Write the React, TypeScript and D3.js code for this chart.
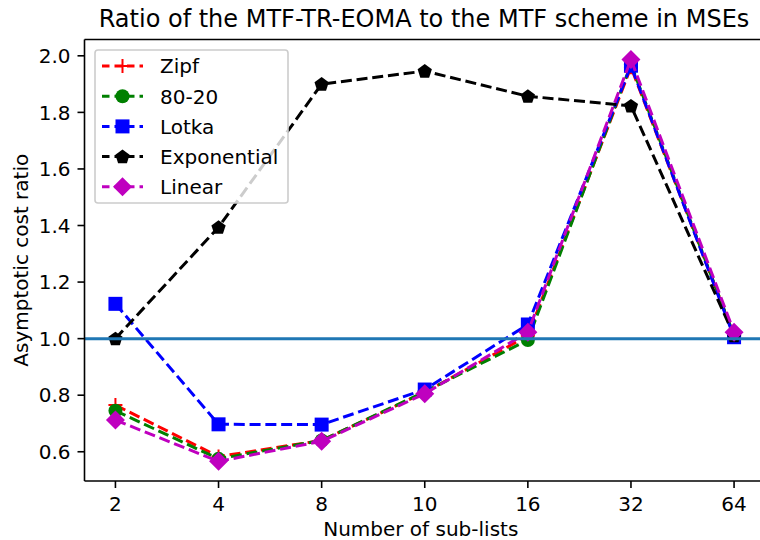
import React from "react";
import * as d3 from "d3";

const categories = ["2", "4", "8", "10", "16", "32", "64"];
const zipf = [0.765, 0.583, 0.64, 0.81, 1.01, 1.96, 1.01];
const eighty20 = [0.745, 0.575, 0.64, 0.812, 0.995, 1.97, 1.01];
const lotka = [1.123, 0.697, 0.696, 0.82, 1.05, 1.965, 1.005];
const exponential = [1.0, 1.394, 1.9, 1.946, 1.857, 1.823, 1.01];
const linear = [0.712, 0.566, 0.637, 0.805, 1.023, 1.987, 1.023];
const yTicks = [0.6, 0.8, 1.0, 1.2, 1.4, 1.6, 1.8, 2.0];

const W = 760, H = 540;
const left = 84.5, right = 765, top = 39.5, bottom = 481;
const FONT = "DejaVu Sans, sans-serif";

type Series = { name: string; values: number[]; color: string; marker: string };
const series: Series[] = [
  { name: "Zipf", values: zipf, color: "#ff0000", marker: "plus" },
  { name: "80-20", values: eighty20, color: "#008000", marker: "circle" },
  { name: "Lotka", values: lotka, color: "#0000ff", marker: "square" },
  { name: "Exponential", values: exponential, color: "#000000", marker: "pentagon" },
  { name: "Linear", values: linear, color: "#bf00bf", marker: "diamond" },
];

function Marker({ type, x, y, color }: { type: string; x: number; y: number; color: string }) {
  if (type === "plus") {
    const s = 7;
    return (
      <g stroke={color} strokeWidth={2}>
        <line x1={x - s} x2={x + s} y1={y} y2={y} />
        <line x1={x} x2={x} y1={y - s} y2={y + s} />
      </g>
    );
  }
  if (type === "circle") return <circle cx={x} cy={y} r={7} fill={color} />;
  if (type === "square") return <rect x={x - 7} y={y - 7} width={14} height={14} fill={color} />;
  if (type === "diamond") {
    const s = 9.5;
    return <path d={`M${x},${y - s}L${x + s},${y}L${x},${y + s}L${x - s},${y}Z`} fill={color} />;
  }
  if (type === "pentagon") {
    const r = 7.5;
    const pts = d3.range(5).map((i) => {
      const a = -Math.PI / 2 + (i * 2 * Math.PI) / 5;
      return `${x + r * Math.cos(a)},${y + 0.5 + r * Math.sin(a)}`;
    });
    return <polygon points={pts.join(" ")} fill={color} />;
  }
  return null;
}

export default function App() {
  const x = d3.scaleLinear().domain([-0.3, 6.3]).range([left, right]);
  const y = d3.scaleLinear().domain([0.4966, 2.0577]).range([bottom, top]);
  const line = d3
    .line<number>()
    .x((_, i) => x(i))
    .y((d) => y(d));

  const legendX = 95, legendY = 50, legendW = 193, legendH = 153;
  const rowH = 30.2;

  return (
    <svg width={W} height={H} style={{ position: "absolute", left: 0, top: 0 }} fontFamily={FONT}>
      <rect width={W} height={H} fill="white" />
      <defs>
        <clipPath id="plot">
          <rect x={left} y={top} width={right - left} height={bottom - top} />
        </clipPath>
      </defs>
      <g clipPath="url(#plot)">
        {series.map((s) => (
          <g key={s.name}>
            <path d={line(s.values) || ""} fill="none" stroke={s.color} strokeWidth={3} strokeDasharray="11,4.8" />
            {s.values.map((v, i) => (
              <Marker key={i} type={s.marker} x={x(i)} y={y(v)} color={s.color} />
            ))}
          </g>
        ))}
        <line x1={left} x2={right} y1={y(1)} y2={y(1)} stroke="#1f77b4" strokeWidth={3} />
      </g>
      {/* spines */}
      <line x1={left} x2={left} y1={top} y2={bottom} stroke="black" strokeWidth={1.6} />
      <line x1={left} x2={right} y1={bottom} y2={bottom} stroke="black" strokeWidth={1.6} />
      <line x1={left} x2={right} y1={top} y2={top} stroke="black" strokeWidth={1.6} />
      {/* x ticks */}
      {categories.map((c, i) => (
        <g key={c}>
          <line x1={x(i)} x2={x(i)} y1={bottom} y2={bottom + 7} stroke="black" strokeWidth={1.6} />
          <text x={x(i)} y={bottom + 30} textAnchor="middle" fontSize={20} fill="black">
            {c}
          </text>
        </g>
      ))}
      {/* y ticks */}
      {yTicks.map((t) => (
        <g key={t}>
          <line x1={left - 7} x2={left} y1={y(t)} y2={y(t)} stroke="black" strokeWidth={1.6} />
          <text x={left - 14} y={y(t) + 7.3} textAnchor="end" fontSize={20} fill="black">
            {t.toFixed(1)}
          </text>
        </g>
      ))}
      <text x={(left + right) / 2 - 4} y={536} textAnchor="middle" fontSize={20}>
        Number of sub-lists
      </text>
      <text transform={`translate(28,${(top + bottom) / 2}) rotate(-90)`} textAnchor="middle" fontSize={20}>
        Asymptotic cost ratio
      </text>
      <text x={424} y={27} textAnchor="middle" fontSize={24}>
        Ratio of the MTF-TR-EOMA to the MTF scheme in MSEs
      </text>
      {/* legend */}
      <rect x={legendX} y={legendY} width={legendW} height={legendH} rx={3} fill="white" fillOpacity={0.8} stroke="#cccccc" strokeWidth={1.6} />
      {series.map((s, i) => {
        const cy = legendY + 16 + i * rowH;
        return (
          <g key={s.name}>
            <line x1={102} x2={143} y1={cy} y2={cy} stroke={s.color} strokeWidth={3} strokeDasharray="7.5,5" />
            <Marker type={s.marker} x={122.5} y={cy} color={s.color} />
            <text x={160} y={cy + 7.3} fontSize={20}>
              {s.name}
            </text>
          </g>
        );
      })}
    </svg>
  );
}
